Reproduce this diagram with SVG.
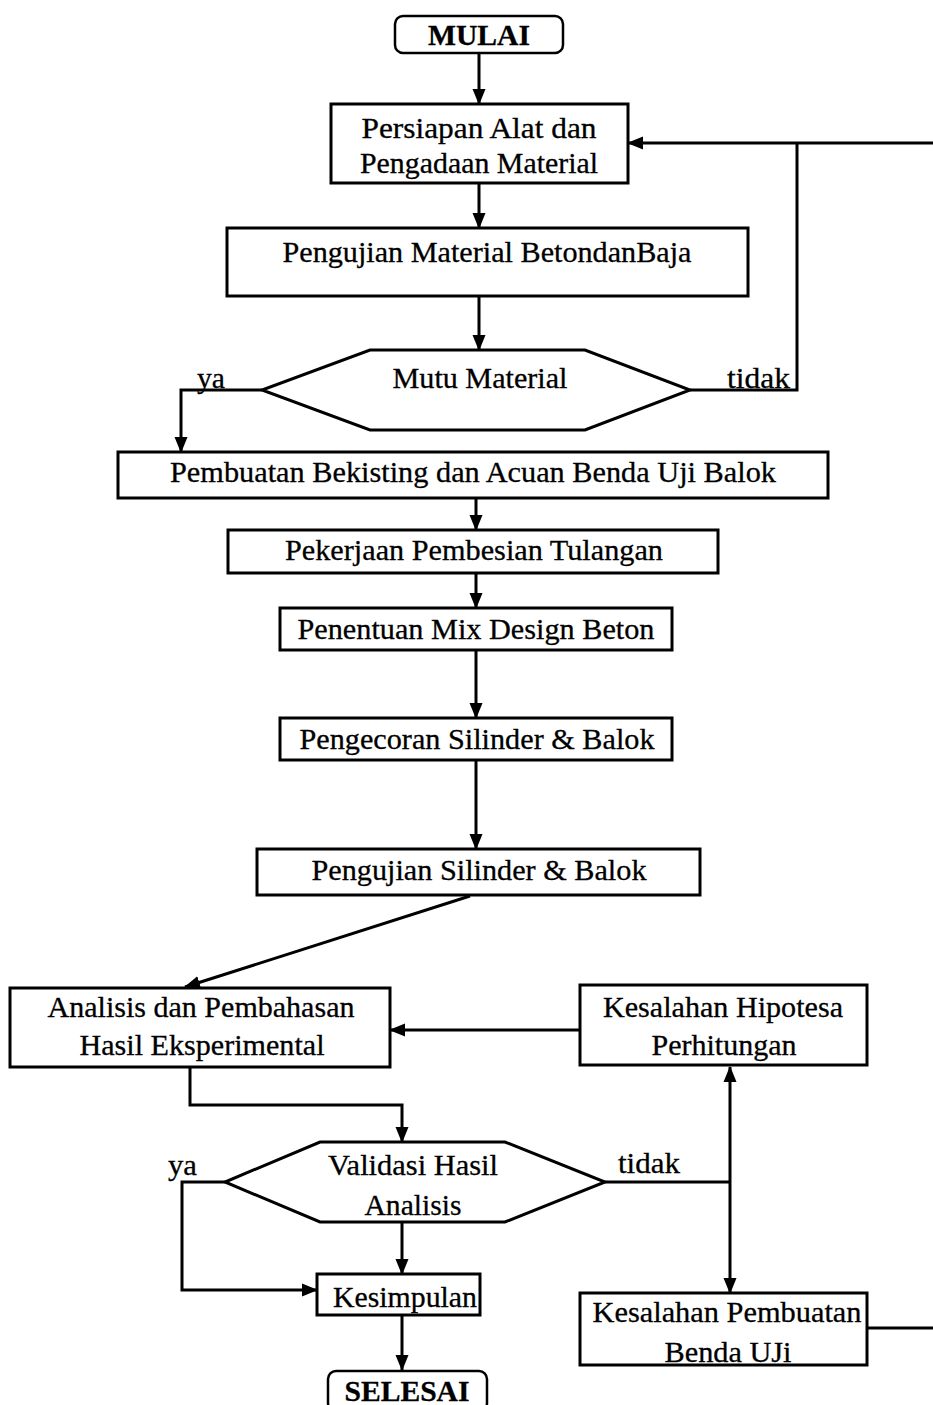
<svg xmlns="http://www.w3.org/2000/svg" width="933" height="1405" viewBox="0 0 933 1405">
  <style>
    .box { fill: #fff; stroke: #000; stroke-width: 3; }
    .term { fill: #fff; stroke: #000; stroke-width: 2.5; }
    .t { font-family: "Liberation Serif", "Times New Roman", serif; font-size: 30px; fill: #000; stroke: #000; stroke-width: 0.3; text-anchor: middle; }
    .b { font-weight: bold; }
    .lbl { font-family: "Liberation Serif", "Times New Roman", serif; font-size: 30px; fill: #000; stroke: #000; stroke-width: 0.3; }
    .ln { fill: none; stroke: #000; stroke-width: 3; }
    .arr { marker-end: url(#ah); }
  </style>
  <defs>
    <marker id="ah" markerUnits="userSpaceOnUse" markerWidth="16" markerHeight="16" viewBox="0 0 16 16" refX="15" refY="8" orient="auto">
      <path d="M0,1.5 L16,8 L0,14.5 Z" fill="#000"/>
    </marker>
  </defs>
  <rect width="933" height="1405" fill="#fff"/>

  <g id="connectors">
    <line class="ln arr" x1="479" y1="53" x2="479" y2="104"/>
    <line class="ln arr" x1="479" y1="183" x2="479" y2="228"/>
    <line class="ln arr" x1="479" y1="296" x2="479" y2="350"/>
    <!-- feedback into the preparation step -->
    <polyline class="ln arr" points="933,143 628,143"/>
    <polyline class="ln" points="690,390 797,390 797,143"/>
    <!-- ya branch of material check -->
    <polyline class="ln arr" points="262,390 181,390 181,452"/>
    <line class="ln arr" x1="476" y1="498" x2="476" y2="530"/>
    <line class="ln arr" x1="476" y1="573" x2="476" y2="608"/>
    <line class="ln arr" x1="476" y1="650" x2="476" y2="718"/>
    <line class="ln arr" x1="476" y1="760" x2="476" y2="849"/>
    <line class="ln arr" x1="470" y1="896" x2="185" y2="987"/>
    <line class="ln arr" x1="580" y1="1030" x2="390" y2="1030"/>
    <polyline class="ln arr" points="190,1067 190,1105 402,1105 402,1142"/>
    <polyline class="ln arr" points="225,1182 182,1182 182,1290 317,1290"/>
    <line class="ln arr" x1="402" y1="1222" x2="402" y2="1274"/>
    <line class="ln arr" x1="402" y1="1315" x2="402" y2="1370"/>
    <line class="ln" x1="605" y1="1182" x2="730" y2="1182"/>
    <line class="ln arr" x1="730" y1="1182" x2="730" y2="1067"/>
    <line class="ln arr" x1="730" y1="1182" x2="730" y2="1293"/>
    <line class="ln" x1="867" y1="1328" x2="933" y2="1328"/>
  </g>

  <g id="mulai">
    <rect class="term" x="395" y="16" width="168" height="37" rx="8"/>
    <text class="t b" x="479" y="45" textLength="102" lengthAdjust="spacingAndGlyphs">MULAI</text>
  </g>
  <g id="persiapan">
    <rect class="box" x="331" y="104" width="297" height="79"/>
    <text class="t" x="479" y="138" textLength="235" lengthAdjust="spacingAndGlyphs">Persiapan Alat dan</text>
    <text class="t" x="479" y="173" textLength="238" lengthAdjust="spacingAndGlyphs">Pengadaan Material</text>
  </g>
  <g id="pengujian-material">
    <rect class="box" x="227" y="228" width="521" height="68"/>
    <text class="t" x="487" y="262" textLength="409" lengthAdjust="spacingAndGlyphs">Pengujian Material BetondanBaja</text>
  </g>
  <g id="mutu">
    <polygon class="box" points="370,350 585,350 690,390 585,430 370,430 262,390"/>
    <text class="t" x="480" y="388" textLength="175" lengthAdjust="spacingAndGlyphs">Mutu Material</text>
  </g>
  <g id="labels-mutu">
    <text class="lbl" x="197" y="388" textLength="28" lengthAdjust="spacingAndGlyphs">ya</text>
    <text class="lbl" x="727" y="388" textLength="63" lengthAdjust="spacingAndGlyphs">tidak</text>
  </g>
  <g id="bekisting">
    <rect class="box" x="118" y="452" width="710" height="46"/>
    <text class="t" x="473" y="482" textLength="606" lengthAdjust="spacingAndGlyphs">Pembuatan Bekisting dan Acuan Benda Uji Balok</text>
  </g>
  <g id="pembesian">
    <rect class="box" x="228" y="530" width="490" height="43"/>
    <text class="t" x="474" y="560" textLength="378" lengthAdjust="spacingAndGlyphs">Pekerjaan Pembesian Tulangan</text>
  </g>
  <g id="mix-design">
    <rect class="box" x="280" y="608" width="392" height="42"/>
    <text class="t" x="476" y="639" textLength="357" lengthAdjust="spacingAndGlyphs">Penentuan Mix Design Beton</text>
  </g>
  <g id="pengecoran">
    <rect class="box" x="280" y="718" width="392" height="42"/>
    <text class="t" x="477" y="749" textLength="355" lengthAdjust="spacingAndGlyphs">Pengecoran Silinder &amp; Balok</text>
  </g>
  <g id="pengujian-silinder">
    <rect class="box" x="257" y="849" width="443" height="46"/>
    <text class="t" x="479" y="880" textLength="335" lengthAdjust="spacingAndGlyphs">Pengujian Silinder &amp; Balok</text>
  </g>
  <g id="analisis">
    <rect class="box" x="10" y="988" width="380" height="79"/>
    <text class="t" x="201" y="1017" textLength="307" lengthAdjust="spacingAndGlyphs">Analisis dan Pembahasan</text>
    <text class="t" x="202" y="1055" textLength="245" lengthAdjust="spacingAndGlyphs">Hasil Eksperimental</text>
  </g>
  <g id="hipotesa">
    <rect class="box" x="580" y="985" width="287" height="80"/>
    <text class="t" x="723" y="1017" textLength="240" lengthAdjust="spacingAndGlyphs">Kesalahan Hipotesa</text>
    <text class="t" x="724" y="1055" textLength="145" lengthAdjust="spacingAndGlyphs">Perhitungan</text>
  </g>
  <g id="validasi">
    <polygon class="box" points="320,1142 505,1142 605,1182 505,1222 320,1222 225,1182"/>
    <text class="t" x="413" y="1175" textLength="170" lengthAdjust="spacingAndGlyphs">Validasi Hasil</text>
    <text class="t" x="413" y="1215" textLength="97" lengthAdjust="spacingAndGlyphs">Analisis</text>
  </g>
  <g id="labels-validasi">
    <text class="lbl" x="168" y="1175" textLength="29" lengthAdjust="spacingAndGlyphs">ya</text>
    <text class="lbl" x="618" y="1173" textLength="62" lengthAdjust="spacingAndGlyphs">tidak</text>
  </g>
  <g id="kesimpulan">
    <rect class="box" x="317" y="1274" width="163" height="41"/>
    <text class="t" x="405" y="1307" textLength="144" lengthAdjust="spacingAndGlyphs">Kesimpulan</text>
  </g>
  <g id="selesai">
    <rect class="term" x="328" y="1371" width="159" height="40" rx="8"/>
    <text class="t b" x="407" y="1401" textLength="125" lengthAdjust="spacingAndGlyphs">SELESAI</text>
  </g>
  <g id="pembuatan-benda-uji">
    <rect class="box" x="580" y="1293" width="287" height="72"/>
    <text class="t" x="727" y="1322" textLength="269" lengthAdjust="spacingAndGlyphs">Kesalahan Pembuatan</text>
    <text class="t" x="728" y="1362" textLength="127" lengthAdjust="spacingAndGlyphs">Benda UJi</text>
  </g>
</svg>
